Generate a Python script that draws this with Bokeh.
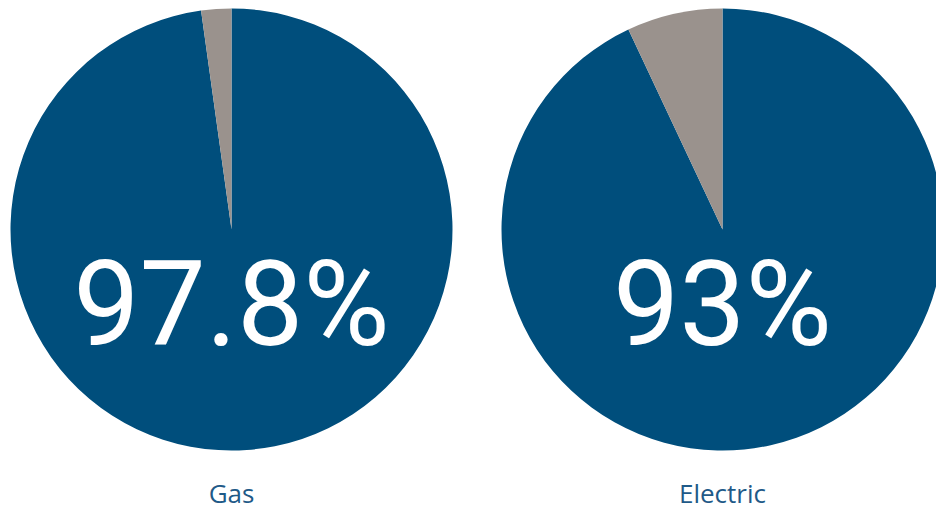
from bokeh.plotting import figure
from bokeh.models import ColumnDataSource, Range1d
from bokeh.core.properties import value
from bokeh.embed import file_html
from bokeh.resources import INLINE
import math

# Data
categories = ["Gas", "Electric"]
pct_values = [97.8, 93.0]
pct_labels = ["97.8%", "93%"]

BLUE = "#004E7C"
GREY = "#9A928D"
LABEL = "#1F5A88"

W, H = 936, 509
p = figure(width=W, height=H, output_backend="svg", toolbar_location=None,
           x_range=Range1d(0, W), y_range=Range1d(0, H), min_border=0)
p.axis.visible = False
p.grid.visible = False
p.outline_line_color = None
p.background_fill_color = "white"
p.border_fill_color = "white"

cx = [231, 722]
cy = 280
r = 221

top = math.pi / 2
blue_start, blue_end, grey_start, grey_end = [], [], [], []
for v in pct_values:
    rest = (100 - v) / 100 * 2 * math.pi
    grey_start.append(top)
    grey_end.append(top + rest)
    blue_start.append(top + rest)
    blue_end.append(top + 2 * math.pi)

src = ColumnDataSource(dict(x=cx, y=[cy, cy], bs=blue_start, be=blue_end,
                            gs=grey_start, ge=grey_end,
                            lab=pct_labels, cat=categories))
p.wedge(x="x", y="y", radius=r, start_angle="bs", end_angle="be",
        fill_color=BLUE, line_color=None, source=src)
p.wedge(x="x", y="y", radius=r, start_angle="gs", end_angle="ge",
        fill_color=GREY, line_color=None, source=src)

p.text(x="x", y=205, text="lab", source=src, text_color="white",
       text_font=value("Roboto"),
       text_font_size="118px", text_align="center", text_baseline="middle")

p.text(x="x", y=17, text="cat", source=src, text_color=LABEL,
       text_font=value("Open Sans"), text_font_size="26px",
       text_align="center", text_baseline="middle")

open("out.html", "w").write(file_html(p, INLINE))
